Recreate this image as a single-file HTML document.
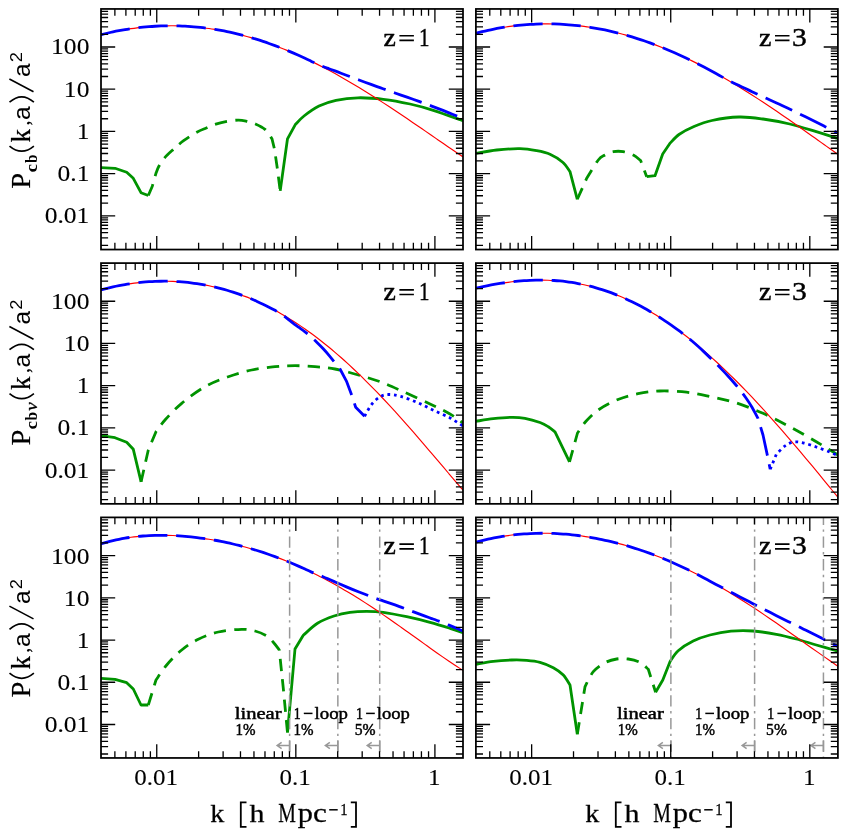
<!DOCTYPE html>
<html><head><meta charset="utf-8"><title>Power spectra</title>
<style>html,body{margin:0;padding:0;background:#fff}svg{display:block;will-change:transform}text{fill:#000}</style></head><body>
<svg width="845" height="832" viewBox="0 0 845 832" font-family="Liberation Serif">
<rect width="845" height="832" fill="#fff"/>
<defs>
<clipPath id="cp00"><rect x="101" y="8.95" width="362" height="240.6"/></clipPath>
<clipPath id="cp01"><rect x="475.9" y="8.95" width="362" height="240.6"/></clipPath>
<clipPath id="cp10"><rect x="101" y="263.1" width="362" height="240.75"/></clipPath>
<clipPath id="cp11"><rect x="475.9" y="263.1" width="362" height="240.75"/></clipPath>
<clipPath id="cp20"><rect x="101" y="517.4" width="362" height="240.55"/></clipPath>
<clipPath id="cp21"><rect x="475.9" y="517.4" width="362" height="240.55"/></clipPath>
</defs>
<g clip-path="url(#cp00)" fill="none" stroke-linejoin="round">
<path d="M101 167.7L115 168.3L126.7 172.3L133.3 178.3L141 192.7L148.3 195.5" stroke="#009300" stroke-width="2.8"/>
<path d="M148.3 195.5L152.3 186.2L156.1 172.9C156.57 171.8 157.48 168.82 158.9 166.3C160.32 163.78 162.23 160.58 164.6 157.8C166.97 155.02 169.93 152.45 173.1 149.6C176.27 146.75 179.65 143.6 183.6 140.7C187.55 137.8 193.02 134.32 196.8 132.2C200.58 130.08 203.13 129.33 206.3 128C209.47 126.67 212.33 125.3 215.8 124.2C219.27 123.1 223.32 122.08 227.1 121.4C230.88 120.72 235.18 120.1 238.5 120.1C241.82 120.1 244.17 120.75 247 121.4C249.83 122.05 252.5 122.67 255.5 124C258.5 125.33 262.25 126.93 265 129.4C267.75 131.87 270.83 137.23 272 138.8L274.5 149.2L277.3 168.2L280.2 190.9" stroke="#009300" stroke-width="2.8" stroke-dasharray="12.3 8.2"/>
<path d="M280.2 190.9L287.5 138.8L295.3 124.6C296.75 123.17 300.05 119.1 304 116C307.95 112.9 313.67 108.62 319 106C324.33 103.38 329.5 101.67 336 100.3C342.5 98.93 350.12 97.97 358 97.8C365.88 97.63 374.63 98.27 383.3 99.3C391.97 100.33 401.67 102.17 410 104C418.33 105.83 424.47 107.5 433.3 110.3C442.13 113.1 458.05 119.05 463 120.8" stroke="#009300" stroke-width="2.8"/>
<path d="M101 34.74C102 34.49 105 33.73 107 33.26C109 32.79 111 32.34 113 31.92C115 31.49 117 31.09 119 30.71C121 30.33 123 29.97 125 29.63C127 29.29 129 28.98 131 28.68C133 28.39 135 28.12 137 27.87C139 27.62 141 27.4 143 27.19C145 26.99 147 26.81 149 26.65C151 26.49 153 26.35 155 26.23C157 26.12 159 26.02 161 25.95C163 25.88 165 25.83 167 25.81C169 25.78 171 25.77 173 25.79C175 25.81 177 25.85 179 25.91C181 25.98 183 26.06 185 26.17C187 26.27 189 26.4 191 26.55C193 26.7 195 26.88 197 27.07C199 27.27 201 27.48 203 27.72C205 27.96 207 28.22 209 28.51C211 28.79 213 29.1 215 29.42C217 29.75 219 30.1 221 30.47C223 30.84 225 31.23 227 31.65C229 32.06 231 32.5 233 32.95C235 33.41 237 33.89 239 34.39C241 34.89 243 35.41 245 35.95C247 36.49 249 37.06 251 37.64C253 38.22 255 38.83 257 39.45C259 40.08 261 40.72 263 41.39C265 42.06 267 42.74 269 43.45C271 44.16 273 44.89 275 45.63C277 46.38 279 47.15 281 47.93C283 48.72 285 49.52 287 50.35C289 51.17 291 52.02 293 52.88C295 53.74 297 54.62 299 55.52C301 56.42 303 57.34 305 58.28C307 59.21 309 60.17 311 61.14C313 62.11 315 63.1 317 64.11C319 65.11 321 66.13 323 67.17C325 68.21 327 69.27 329 70.34C331 71.41 333 72.5 335 73.6C337 74.7 339 75.82 341 76.95C343 78.08 345 79.23 347 80.39C349 81.55 351 82.72 353 83.91C355 85.1 357 86.3 359 87.51C361 88.73 363 89.95 365 91.19C367 92.43 369 93.68 371 94.94C373 96.2 375 97.47 377 98.75C379 100.03 381 101.32 383 102.62C385 103.92 387 105.23 389 106.55C391 107.86 393 109.19 395 110.52C397 111.85 399 113.19 401 114.54C403 115.88 405 117.23 407 118.59C409 119.95 411 121.31 413 122.67C415 124.04 417 125.41 419 126.78C421 128.15 423 129.53 425 130.9C427 132.28 429 133.66 431 135.04C433 136.41 435 137.79 437 139.17C439 140.54 441 141.92 443 143.29C445 144.67 447 146.04 449 147.41C451 148.77 453 150.14 455 151.49C457 152.85 459.67 154.65 461 155.55C462.33 156.45 462.67 156.67 463 156.89" stroke="#ff0000" stroke-width="1.15"/>
<path d="M101 34.74C102 34.49 105 33.73 107 33.26C109 32.79 111 32.34 113 31.92C115 31.49 117 31.09 119 30.71C121 30.33 123 29.97 125 29.63C127 29.29 129 28.98 131 28.68C133 28.39 135 28.12 137 27.87C139 27.62 141 27.4 143 27.19C145 26.99 147 26.81 149 26.65C151 26.49 153 26.35 155 26.23C157 26.12 159 26.02 161 25.95C163 25.88 165 25.83 167 25.81C169 25.78 171 25.77 173 25.79C175 25.81 177 25.85 179 25.91C181 25.98 183 26.06 185 26.17C187 26.27 189 26.4 191 26.55C193 26.7 195 26.88 197 27.07C199 27.27 201 27.48 203 27.72C205 27.96 207 28.22 209 28.51C211 28.79 213 29.1 215 29.42C217 29.75 219 30.1 221 30.47C223 30.84 225 31.23 227 31.65C229 32.06 231 32.5 233 32.95C235 33.41 237 33.89 239 34.39C241 34.89 243 35.41 245 35.95C247 36.49 249 37.06 251 37.64C253 38.22 255 38.83 257 39.45C259 40.08 261 40.72 263 41.39C265 42.06 267 42.74 269 43.45C271 44.16 273 44.89 275 45.63C277 46.38 279 47.15 281 47.93C283 48.72 285 49.52 287 50.35C289 51.17 291 52.02 293 52.88C295 53.74 297 54.62 299 55.52C301 56.42 303 57.34 305 58.28C307 59.21 309 60.18 311 61.14C313 62.1 315 63.16 317 64.06C319 64.97 321 65.78 323 66.56C325 67.34 327 68.02 329 68.74C331 69.46 333 70.16 335 70.9C337 71.65 339 72.45 341 73.21C343 73.97 345 74.72 347 75.47C349 76.23 351 76.97 353 77.71C355 78.45 357 79.19 359 79.94C361 80.69 363 81.44 365 82.19C367 82.93 369 83.67 371 84.4C373 85.13 375 85.86 377 86.58C379 87.3 381 88.01 383 88.73C385 89.45 387 90.17 389 90.89C391 91.6 393 92.32 395 93.02C397 93.72 399 94.4 401 95.08C403 95.77 405 96.44 407 97.13C409 97.82 411 98.51 413 99.22C415 99.93 417 100.66 419 101.39C421 102.12 423 102.86 425 103.6C427 104.33 429 105.07 431 105.82C433 106.57 435 107.33 437 108.1C439 108.86 441 109.64 443 110.43C445 111.22 447 112.02 449 112.83C451 113.63 453 114.45 455 115.26C457 116.08 459.67 117.18 461 117.73C462.33 118.27 462.67 118.41 463 118.55" stroke="#0000ff" stroke-width="2.8" stroke-dasharray="29.3 8.85"/>
</g>
<g clip-path="url(#cp01)" fill="none" stroke-linejoin="round">
<path d="M476 153.3C479.45 152.75 489.37 150.77 496.7 150C504.03 149.23 513.33 148.58 520 148.7C526.67 148.82 531.7 149.77 536.7 150.7C541.7 151.63 545.67 152.37 550 154.3C554.33 156.23 559.37 159.4 562.7 162.3C566.03 165.2 568.78 170.13 570 171.7L577.3 199.3" stroke="#009300" stroke-width="2.8"/>
<path d="M577.3 199.3L586.7 178.3C588.63 175.25 595.25 163.88 598.3 160C601.35 156.12 602.5 156.38 605 155C607.5 153.62 610.25 152.25 613.3 151.7C616.35 151.15 619.97 151.15 623.3 151.7C626.63 152.25 630.4 153.5 633.3 155C636.2 156.5 639.47 159.75 640.7 160.7L646.7 176.7" stroke="#009300" stroke-width="2.8" stroke-dasharray="12.3 8.2"/>
<path d="M646.7 176.7L655 175.7L662.7 154L670 143.3C671.5 141.83 675 137.3 679 134.5C683 131.7 688.5 128.83 694 126.5C699.5 124.17 704.5 122.08 712 120.5C719.5 118.92 730.5 117.25 739 117C747.5 116.75 754.55 117.83 763 119C771.45 120.17 780.82 121.88 789.7 124C798.58 126.12 808.25 129.28 816.3 131.7C824.35 134.12 834.38 137.37 838 138.5" stroke="#009300" stroke-width="2.8"/>
<path d="M476 33.2C477 32.95 480 32.17 482 31.69C484 31.2 486 30.74 488 30.31C490 29.87 492 29.46 494 29.06C496 28.67 498 28.3 500 27.95C502 27.61 504 27.28 506 26.98C508 26.67 510 26.39 512 26.14C514 25.88 516 25.64 518 25.43C520 25.21 522 25.02 524 24.85C526 24.68 528 24.54 530 24.41C532 24.29 534 24.18 536 24.1C538 24.02 540 23.96 542 23.93C544 23.89 546 23.88 548 23.88C550 23.89 552 23.92 554 23.97C556 24.02 558 24.1 560 24.19C562 24.29 564 24.41 566 24.55C568 24.68 570 24.85 572 25.03C574 25.21 576 25.42 578 25.64C580 25.87 582 26.12 584 26.38C586 26.65 588 26.94 590 27.26C592 27.57 594 27.9 596 28.26C598 28.61 600 28.99 602 29.39C604 29.78 606 30.2 608 30.64C610 31.08 612 31.54 614 32.02C616 32.5 618 33.01 620 33.53C622 34.05 624 34.6 626 35.16C628 35.73 630 36.31 632 36.91C634 37.52 636 38.15 638 38.79C640 39.44 642 40.1 644 40.79C646 41.47 648 42.18 650 42.9C652 43.63 654 44.37 656 45.13C658 45.9 660 46.68 662 47.48C664 48.28 666 49.1 668 49.94C670 50.78 672 51.64 674 52.52C676 53.39 678 54.29 680 55.2C682 56.11 684 57.04 686 57.99C688 58.94 690 59.9 692 60.89C694 61.87 696 62.87 698 63.88C700 64.9 702 65.93 704 66.98C706 68.03 708 69.1 710 70.18C712 71.26 714 72.36 716 73.47C718 74.58 720 75.71 722 76.85C724 78 726 79.15 728 80.33C730 81.5 732 82.68 734 83.88C736 85.08 738 86.29 740 87.52C742 88.74 744 89.98 746 91.23C748 92.48 750 93.75 752 95.02C754 96.3 756 97.58 758 98.88C760 100.17 762 101.48 764 102.8C766 104.12 768 105.45 770 106.78C772 108.12 774 109.47 776 110.82C778 112.18 780 113.54 782 114.91C784 116.28 786 117.66 788 119.04C790 120.43 792 121.82 794 123.22C796 124.62 798 126.02 800 127.43C802 128.83 804 130.25 806 131.66C808 133.08 810 134.5 812 135.92C814 137.35 816 138.77 818 140.2C820 141.63 822 143.06 824 144.49C826 145.92 828 147.35 830 148.78C832 150.2 834.67 152.11 836 153.06C837.33 154.01 837.67 154.25 838 154.49" stroke="#ff0000" stroke-width="1.15"/>
<path d="M476 33.2C477 32.95 480 32.17 482 31.69C484 31.2 486 30.74 488 30.31C490 29.87 492 29.46 494 29.06C496 28.67 498 28.3 500 27.95C502 27.61 504 27.28 506 26.98C508 26.67 510 26.39 512 26.14C514 25.88 516 25.64 518 25.43C520 25.21 522 25.02 524 24.85C526 24.68 528 24.54 530 24.41C532 24.29 534 24.18 536 24.1C538 24.02 540 23.96 542 23.93C544 23.89 546 23.88 548 23.88C550 23.89 552 23.92 554 23.97C556 24.02 558 24.1 560 24.19C562 24.29 564 24.41 566 24.55C568 24.68 570 24.85 572 25.03C574 25.21 576 25.42 578 25.64C580 25.87 582 26.12 584 26.38C586 26.65 588 26.94 590 27.26C592 27.57 594 27.9 596 28.26C598 28.61 600 28.99 602 29.39C604 29.78 606 30.2 608 30.64C610 31.08 612 31.54 614 32.02C616 32.5 618 33.01 620 33.53C622 34.05 624 34.6 626 35.16C628 35.73 630 36.31 632 36.91C634 37.52 636 38.15 638 38.79C640 39.44 642 40.1 644 40.79C646 41.47 648 42.18 650 42.9C652 43.63 654 44.37 656 45.13C658 45.9 660 46.68 662 47.48C664 48.28 666 49.1 668 49.94C670 50.78 672 51.64 674 52.52C676 53.39 678 54.29 680 55.2C682 56.11 684 57.04 686 57.99C688 58.94 690 59.9 692 60.89C694 61.87 696 62.87 698 63.88C700 64.9 702 65.93 704 66.98C706 68.03 708 69.1 710 70.18C712 71.26 714 72.36 716 73.47C718 74.58 720 75.74 722 76.85C724 77.97 726 79.12 728 80.17C730 81.22 732 82.2 734 83.17C736 84.14 738 85.05 740 85.99C742 86.92 744 87.83 746 88.78C748 89.72 750 90.71 752 91.66C754 92.61 756 93.55 758 94.47C760 95.4 762 96.3 764 97.21C766 98.12 768 99.01 770 99.93C772 100.85 774 101.77 776 102.71C778 103.64 780 104.59 782 105.53C784 106.47 786 107.41 788 108.35C790 109.3 792 110.24 794 111.2C796 112.15 798 113.11 800 114.08C802 115.06 804 116.04 806 117.04C808 118.03 810 119.03 812 120.04C814 121.05 816 122.06 818 123.07C820 124.08 822 125.09 824 126.1C826 127.1 828 128.1 830 129.1C832 130.09 834.67 131.41 836 132.07C837.33 132.72 837.67 132.89 838 133.05" stroke="#0000ff" stroke-width="2.8" stroke-dasharray="29.3 8.85"/>
</g>
<g clip-path="url(#cp10)" fill="none" stroke-linejoin="round">
<path d="M101 435.7L115 437.7L126.7 442.3L133.3 449.3L141.1 481.8" stroke="#009300" stroke-width="2.8"/>
<path d="M141.1 481.8L148.3 450L156 431.7C157.5 429.75 160.72 424.73 165 420C169.28 415.27 175.03 408.85 181.7 403.3C188.37 397.75 197.23 391.13 205 386.7C212.77 382.27 220.52 379.48 228.3 376.7C236.08 373.92 243.92 371.67 251.7 370C259.48 368.33 267.78 367.42 275 366.7C282.22 365.98 288.33 365.7 295 365.7C301.67 365.7 308.33 366.15 315 366.7C321.67 367.25 327.78 367.62 335 369C342.22 370.38 350.8 372.88 358.3 375C365.8 377.12 372.5 378.92 380 381.7C387.5 384.48 394.97 387.98 403.3 391.7C411.63 395.42 422.22 400.28 430 404C437.78 407.72 444.5 410.83 450 414C455.5 417.17 460.83 421.5 463 423" stroke="#009300" stroke-width="2.8" stroke-dasharray="12.3 8.2"/>
<path d="M101 289.82C102 289.56 105 288.76 107 288.27C109 287.78 111 287.31 113 286.87C115 286.43 117 286.02 119 285.63C121 285.24 123 284.88 125 284.54C127 284.2 129 283.89 131 283.6C133 283.32 135 283.05 137 282.82C139 282.58 141 282.37 143 282.19C145 282 147 281.85 149 281.71C151 281.58 153 281.47 155 281.39C157 281.31 159 281.26 161 281.23C163 281.2 165 281.2 167 281.22C169 281.25 171 281.3 173 281.38C175 281.46 177 281.56 179 281.7C181 281.83 183 281.99 185 282.17C187 282.36 189 282.58 191 282.82C193 283.06 195 283.33 197 283.63C199 283.93 201 284.26 203 284.61C205 284.97 207 285.36 209 285.77C211 286.18 213 286.62 215 287.1C217 287.57 219 288.07 221 288.6C223 289.13 225 289.69 227 290.28C229 290.87 231 291.49 233 292.14C235 292.79 237 293.47 239 294.18C241 294.9 243 295.64 245 296.41C247 297.18 249 297.99 251 298.82C253 299.66 255 300.52 257 301.42C259 302.32 261 303.24 263 304.2C265 305.16 267 306.15 269 307.18C271 308.2 273 309.25 275 310.34C277 311.43 279 312.54 281 313.69C283 314.84 285 316.02 287 317.24C289 318.45 291 319.69 293 320.97C295 322.25 297 323.55 299 324.89C301 326.23 303 327.6 305 329.01C307 330.41 309 331.84 311 333.31C313 334.77 315 336.27 317 337.79C319 339.32 321 340.88 323 342.46C325 344.05 327 345.67 329 347.31C331 348.96 333 350.64 335 352.35C337 354.05 339 355.79 341 357.55C343 359.32 345 361.11 347 362.93C349 364.75 351 366.6 353 368.48C355 370.35 357 372.26 359 374.18C361 376.11 363 378.07 365 380.05C367 382.03 369 384.03 371 386.06C373 388.09 375 390.15 377 392.22C379 394.3 381 396.4 383 398.51C385 400.63 387 402.78 389 404.94C391 407.1 393 409.28 395 411.47C397 413.67 399 415.89 401 418.12C403 420.36 405 422.61 407 424.87C409 427.13 411 429.41 413 431.7C415 433.99 417 436.3 419 438.61C421 440.93 423 443.25 425 445.58C427 447.91 429 450.26 431 452.6C433 454.95 435 457.3 437 459.66C439 462.01 441 464.37 443 466.73C445 469.08 447 471.44 449 473.8C451 476.15 453 478.51 455 480.86C457 483.2 459.67 486.32 461 487.88C462.33 489.44 462.67 489.82 463 490.21" stroke="#ff0000" stroke-width="1.15"/>
<path d="M101 289.82C102 289.56 105 288.76 107 288.27C109 287.78 111 287.31 113 286.87C115 286.43 117 286.02 119 285.63C121 285.24 123 284.88 125 284.54C127 284.2 129 283.89 131 283.6C133 283.32 135 283.05 137 282.82C139 282.58 141 282.37 143 282.19C145 282 147 281.85 149 281.71C151 281.58 153 281.47 155 281.39C157 281.31 159 281.26 161 281.23C163 281.2 165 281.2 167 281.22C169 281.25 171 281.3 173 281.38C175 281.46 177 281.56 179 281.7C181 281.83 183 281.99 185 282.17C187 282.36 189 282.58 191 282.82C193 283.06 195 283.33 197 283.63C199 283.93 201 284.26 203 284.61C205 284.97 207 285.36 209 285.77C211 286.18 213 286.62 215 287.1C217 287.57 219 288.07 221 288.6C223 289.13 225 289.69 227 290.28C229 290.87 231 291.49 233 292.14C235 292.79 237 293.47 239 294.18C241 294.9 243 295.64 245 296.41C247 297.18 249 297.99 251 298.82C253 299.66 255 300.52 257 301.42C259 302.32 261 303.24 263 304.2C265 305.16 267 306.15 269 307.18C271 308.2 273 309.23 275 310.34C277 311.45 279 312.5 281 313.82C283 315.14 285 316.73 287 318.27C289 319.81 291 321.51 293 323.04C295 324.57 297 325.98 299 327.46C301 328.93 303 330.34 305 331.91C307 333.49 309 335.14 311 336.9C313 338.65 315 340.51 317 342.45C319 344.39 321 346.39 323 348.53C325 350.67 327 352.93 329 355.29C331 357.66 333.17 360.44 335 362.73C336.83 365.01 339.17 367.95 340 369L346.7 381.7L351.7 395L355.7 407.3L364.6 416.3" stroke="#0000ff" stroke-width="2.8" stroke-dasharray="29.3 8.85"/>
<path d="M364.6 416.3C365.78 414.3 369.13 407.53 371.7 404.3C374.27 401.07 377.23 398.53 380 396.9C382.77 395.27 384.97 394.62 388.3 394.5C391.63 394.38 395.27 394.92 400 396.2C404.73 397.48 411.15 399.87 416.7 402.2C422.25 404.53 427.75 407.58 433.3 410.2C438.85 412.82 445.05 415.27 450 417.9C454.95 420.53 460.83 424.65 463 426" stroke="#0000ff" stroke-width="2.8" stroke-dasharray="2.8 3.8"/>
</g>
<g clip-path="url(#cp11)" fill="none" stroke-linejoin="round">
<path d="M476 421.3C478.88 420.87 487.35 419.37 493.3 418.7C499.25 418.03 506.42 417.37 511.7 417.3C516.98 417.23 520.28 417.43 525 418.3C529.72 419.17 536.12 421.1 540 422.5C543.88 423.9 545.8 425.13 548.3 426.7C550.8 428.27 553.88 431.03 555 431.9L569.5 461.9" stroke="#009300" stroke-width="2.8"/>
<path d="M569.5 461.9L577.5 433C578.92 431.05 582.42 425.22 586 421.3C589.58 417.38 593.67 413.13 599 409.5C604.33 405.87 611.5 402.13 618 399.5C624.5 396.87 631 395.12 638 393.7C645 392.28 651.92 391.25 660 391C668.08 390.75 678.17 391.28 686.5 392.2C694.83 393.12 701.92 394.78 710 396.5C718.08 398.22 726.17 399.7 735 402.5C743.83 405.3 753.88 409.27 763 413.3C772.12 417.33 780.82 421.97 789.7 426.7C798.58 431.43 808.25 436.98 816.3 441.7C824.35 446.42 834.38 452.78 838 455" stroke="#009300" stroke-width="2.8" stroke-dasharray="12.3 8.2"/>
<path d="M476 288.12C477 287.9 480 287.24 482 286.82C484 286.4 486 286 488 285.61C490 285.22 492 284.84 494 284.49C496 284.13 498 283.79 500 283.47C502 283.15 504 282.85 506 282.57C508 282.3 510 282.04 512 281.8C514 281.56 516 281.35 518 281.16C520 280.97 522 280.8 524 280.66C526 280.51 528 280.4 530 280.3C532 280.21 534 280.14 536 280.11C538 280.07 540 280.05 542 280.07C544 280.08 546 280.13 548 280.2C550 280.27 552 280.37 554 280.5C556 280.63 558 280.79 560 280.98C562 281.17 564 281.39 566 281.64C568 281.89 570 282.18 572 282.49C574 282.8 576 283.15 578 283.53C580 283.91 582 284.31 584 284.76C586 285.2 588 285.67 590 286.18C592 286.69 594 287.23 596 287.8C598 288.38 600 288.98 602 289.63C604 290.27 606 290.94 608 291.65C610 292.35 612 293.09 614 293.87C616 294.64 618 295.45 620 296.29C622 297.13 624 298.01 626 298.92C628 299.83 630 300.77 632 301.75C634 302.72 636 303.73 638 304.78C640 305.82 642 306.9 644 308.01C646 309.11 648 310.26 650 311.43C652 312.61 654 313.82 656 315.06C658 316.3 660 317.57 662 318.88C664 320.18 666 321.52 668 322.89C670 324.26 672 325.66 674 327.09C676 328.52 678 329.99 680 331.48C682 332.97 684 334.5 686 336.05C688 337.61 690 339.19 692 340.8C694 342.42 696 344.06 698 345.73C700 347.4 702 349.1 704 350.83C706 352.56 708 354.32 710 356.1C712 357.88 714 359.69 716 361.53C718 363.36 720 365.23 722 367.12C724 369 726 370.92 728 372.86C730 374.79 732 376.76 734 378.74C736 380.73 738 382.74 740 384.77C742 386.8 744 388.86 746 390.93C748 393.01 750 395.11 752 397.22C754 399.34 756 401.48 758 403.64C760 405.8 762 407.97 764 410.17C766 412.36 768 414.58 770 416.81C772 419.04 774 421.29 776 423.55C778 425.81 780 428.09 782 430.39C784 432.68 786 434.99 788 437.31C790 439.63 792 441.97 794 444.32C796 446.67 798 449.03 800 451.4C802 453.77 804 456.15 806 458.54C808 460.93 810 463.33 812 465.74C814 468.15 816 470.57 818 472.99C820 475.42 822 477.85 824 480.28C826 482.72 828 485.16 830 487.61C832 490.06 834.67 493.33 836 494.96C837.33 496.59 837.67 497.01 838 497.41" stroke="#ff0000" stroke-width="1.15"/>
<path d="M476 288.12C477 287.9 480 287.24 482 286.82C484 286.4 486 286 488 285.61C490 285.22 492 284.84 494 284.49C496 284.13 498 283.79 500 283.47C502 283.15 504 282.85 506 282.57C508 282.3 510 282.04 512 281.8C514 281.56 516 281.35 518 281.16C520 280.97 522 280.8 524 280.66C526 280.51 528 280.4 530 280.3C532 280.21 534 280.14 536 280.11C538 280.07 540 280.05 542 280.07C544 280.08 546 280.13 548 280.2C550 280.27 552 280.37 554 280.5C556 280.63 558 280.79 560 280.98C562 281.17 564 281.39 566 281.64C568 281.89 570 282.18 572 282.49C574 282.8 576 283.15 578 283.53C580 283.91 582 284.31 584 284.76C586 285.2 588 285.67 590 286.18C592 286.69 594 287.23 596 287.8C598 288.38 600 288.98 602 289.63C604 290.27 606 290.94 608 291.65C610 292.35 612 293.09 614 293.87C616 294.64 618 295.45 620 296.29C622 297.13 624 298.01 626 298.92C628 299.83 630 300.77 632 301.75C634 302.72 636 303.73 638 304.78C640 305.82 642 306.9 644 308.01C646 309.11 648 310.26 650 311.43C652 312.61 654 313.82 656 315.06C658 316.3 660 317.57 662 318.88C664 320.18 666 321.52 668 322.89C670 324.26 672 325.66 674 327.09C676 328.52 678 329.98 680 331.48C682 332.98 684 334.48 686 336.08C688 337.67 690 339.33 692 341.03C694 342.74 696 344.52 698 346.32C700 348.13 702 349.99 704 351.88C706 353.76 708 355.69 710 357.62C712 359.56 714 361.52 716 363.51C718 365.51 720 367.53 722 369.61C724 371.69 726 373.8 728 375.98C730 378.17 732 380.4 734 382.73C736 385.07 738 387.46 740 390C742 392.53 744 395.09 746 397.95C748 400.81 750 403.78 752 407.17C754 410.57 757 416.45 758 418.3L763 435L767 453.6L770.2 469.3" stroke="#0000ff" stroke-width="2.8" stroke-dasharray="29.3 8.85"/>
<path d="M770.2 469.3L776.3 454.4C777.7 453.02 781.92 448.15 784.7 446.1C787.48 444.05 789.95 442.65 793 442.1C796.05 441.55 799.12 441.98 803 442.8C806.88 443.62 811.85 445.47 816.3 447C820.75 448.53 826.08 450.53 829.7 452C833.32 453.47 836.62 455.17 838 455.8" stroke="#0000ff" stroke-width="2.8" stroke-dasharray="2.8 3.8"/>
</g>
<g clip-path="url(#cp20)" fill="none" stroke-linejoin="round">
<path d="M101 678.3L115 679.3L126.7 682.7L133.3 689L141 705L148.3 705" stroke="#009300" stroke-width="2.8"/>
<path d="M148.3 705L156 680C157.78 677.5 162.42 670 166.7 665C170.98 660 176.43 654.28 181.7 650C186.97 645.72 192.2 642.3 198.3 639.3C204.4 636.3 211.07 633.67 218.3 632C225.53 630.33 235.58 629.47 241.7 629.3C247.82 629.13 250.83 629.88 255 631C259.17 632.12 263.65 634.12 266.7 636C269.75 637.88 271.2 639.97 273.3 642.3C275.4 644.63 278.3 648.72 279.3 650L283.3 688.3L287.5 732.7" stroke="#009300" stroke-width="2.8" stroke-dasharray="12.3 8.2"/>
<path d="M287.5 732.7L295 649L303.3 635.3C305.67 633.3 312.38 626.52 317.5 623.3C322.62 620.08 328.58 617.83 334 616C339.42 614.17 344.55 613.08 350 612.3C355.45 611.52 361.15 611.3 366.7 611.3C372.25 611.3 376.63 611.4 383.3 612.3C389.97 613.2 398.92 615.03 406.7 616.7C414.48 618.37 422.78 620.37 430 622.3C437.22 624.23 444.5 626.55 450 628.3C455.5 630.05 460.83 632.05 463 632.8" stroke="#009300" stroke-width="2.8"/>
<path d="M101 543.91C102 543.62 105 542.7 107 542.14C109 541.59 111 541.09 113 540.61C115 540.14 117 539.7 119 539.3C121 538.9 123 538.53 125 538.19C127 537.86 129 537.56 131 537.28C133 537.01 135 536.77 137 536.56C139 536.34 141 536.16 143 536C145 535.85 147 535.72 149 535.61C151 535.51 153 535.43 155 535.38C157 535.32 159 535.29 161 535.29C163 535.28 165 535.3 167 535.34C169 535.38 171 535.44 173 535.52C175 535.61 177 535.71 179 535.84C181 535.97 183 536.11 185 536.28C187 536.45 189 536.64 191 536.84C193 537.05 195 537.28 197 537.52C199 537.77 201 538.03 203 538.32C205 538.6 207 538.91 209 539.23C211 539.55 213 539.89 215 540.25C217 540.61 219 540.99 221 541.39C223 541.78 225 542.2 227 542.63C229 543.06 231 543.52 233 543.99C235 544.46 237 544.95 239 545.46C241 545.96 243 546.49 245 547.03C247 547.58 249 548.14 251 548.72C253 549.31 255 549.91 257 550.53C259 551.15 261 551.79 263 552.44C265 553.1 267 553.78 269 554.48C271 555.17 273 555.89 275 556.62C277 557.36 279 558.11 281 558.88C283 559.66 285 560.45 287 561.26C289 562.07 291 562.9 293 563.76C295 564.61 297 565.48 299 566.37C301 567.26 303 568.17 305 569.1C307 570.03 309 570.98 311 571.95C313 572.91 315 573.9 317 574.91C319 575.92 321 576.94 323 577.99C325 579.04 327 580.1 329 581.18C331 582.27 333 583.37 335 584.49C337 585.61 339 586.75 341 587.91C343 589.07 345 590.24 347 591.44C349 592.63 351 593.84 353 595.07C355 596.29 357 597.54 359 598.8C361 600.06 363 601.33 365 602.62C367 603.91 369 605.22 371 606.54C373 607.86 375 609.19 377 610.53C379 611.88 381 613.24 383 614.61C385 615.98 387 617.36 389 618.75C391 620.14 393 621.54 395 622.94C397 624.35 399 625.77 401 627.19C403 628.61 405 630.04 407 631.47C409 632.9 411 634.33 413 635.77C415 637.21 417 638.65 419 640.08C421 641.52 423 642.96 425 644.39C427 645.82 429 647.26 431 648.68C433 650.1 435 651.52 437 652.92C439 654.33 441 655.73 443 657.11C445 658.5 447 659.87 449 661.23C451 662.58 453 663.92 455 665.24C457 666.56 459.67 668.27 461 669.13C462.33 669.99 462.67 670.18 463 670.39" stroke="#ff0000" stroke-width="1.15"/>
<path d="M101 543.91C102 543.62 105 542.7 107 542.14C109 541.59 111 541.09 113 540.61C115 540.14 117 539.7 119 539.3C121 538.9 123 538.53 125 538.19C127 537.86 129 537.56 131 537.28C133 537.01 135 536.77 137 536.56C139 536.34 141 536.16 143 536C145 535.85 147 535.72 149 535.61C151 535.51 153 535.43 155 535.38C157 535.32 159 535.29 161 535.29C163 535.28 165 535.3 167 535.34C169 535.38 171 535.44 173 535.52C175 535.61 177 535.71 179 535.84C181 535.97 183 536.11 185 536.28C187 536.45 189 536.64 191 536.84C193 537.05 195 537.28 197 537.52C199 537.77 201 538.03 203 538.32C205 538.6 207 538.91 209 539.23C211 539.55 213 539.89 215 540.25C217 540.61 219 540.99 221 541.39C223 541.78 225 542.2 227 542.63C229 543.06 231 543.52 233 543.99C235 544.46 237 544.95 239 545.46C241 545.96 243 546.49 245 547.03C247 547.58 249 548.14 251 548.72C253 549.31 255 549.91 257 550.53C259 551.15 261 551.79 263 552.44C265 553.1 267 553.78 269 554.48C271 555.17 273 555.89 275 556.62C277 557.36 279 558.11 281 558.88C283 559.66 285 560.45 287 561.26C289 562.07 291 562.9 293 563.76C295 564.61 297 565.48 299 566.37C301 567.26 303 568.18 305 569.1C307 570.02 309 571 311 571.87C313 572.74 315 573.51 317 574.32C319 575.13 321 575.89 323 576.72C325 577.55 327 578.43 329 579.3C331 580.17 333 581.05 335 581.93C337 582.8 339 583.69 341 584.55C343 585.42 345 586.28 347 587.12C349 587.96 351 588.78 353 589.58C355 590.39 357 591.18 359 591.97C361 592.75 363 593.53 365 594.31C367 595.08 369 595.88 371 596.64C373 597.39 375 598.12 377 598.82C379 599.52 381 600.18 383 600.85C385 601.53 387 602.18 389 602.86C391 603.53 393 604.22 395 604.93C397 605.65 399 606.4 401 607.14C403 607.89 405 608.64 407 609.39C409 610.14 411 610.9 413 611.66C415 612.41 417 613.17 419 613.93C421 614.68 423 615.45 425 616.18C427 616.91 429 617.61 431 618.32C433 619.03 435 619.71 437 620.45C439 621.18 441 621.94 443 622.73C445 623.52 447 624.35 449 625.17C451 626 453 626.83 455 627.66C457 628.5 459.67 629.63 461 630.2C462.33 630.76 462.67 630.91 463 631.05" stroke="#0000ff" stroke-width="2.8" stroke-dasharray="29.2 8.8 29.2 8.8 29.2 8.8 29.2 8.8 29.2 8.8 29.2 8.8 50.4 8.8 29.2 8.8 29.2 8.8 29.2 8.8 29.2 8.8"/>
</g>
<g clip-path="url(#cp21)" fill="none" stroke-linejoin="round">
<path d="M476 664.3C478.88 663.8 487.35 662.02 493.3 661.3C499.25 660.58 506.13 660.17 511.7 660C517.27 659.83 521.98 659.92 526.7 660.3C531.42 660.68 535.57 661.07 540 662.3C544.43 663.53 549.42 665.58 553.3 667.7C557.18 669.82 560.52 672.12 563.3 675C566.08 677.88 568.88 683.33 570 685L577.3 734.3" stroke="#009300" stroke-width="2.8"/>
<path d="M577.3 734.3L585 686.7C586.38 684.2 589.97 675.7 593.3 671.7C596.63 667.7 601.1 664.82 605 662.7C608.9 660.58 612.82 659.62 616.7 659C620.58 658.38 624.42 658.45 628.3 659C632.18 659.55 636.67 660.58 640 662.3C643.33 664.02 646.92 668.13 648.3 669.3L655.6 692.2" stroke="#009300" stroke-width="2.8" stroke-dasharray="12.3 8.2"/>
<path d="M655.6 692.2L662.8 680L670.2 661.3C671.53 659.53 674.37 654.08 678.2 650.7C682.03 647.32 687.9 643.62 693.2 641C698.5 638.38 703.7 636.63 710 635C716.3 633.37 723.83 631.87 731 631.2C738.17 630.53 745.45 630.48 753 631C760.55 631.52 769.08 632.97 776.3 634.3C783.52 635.63 789.63 637.22 796.3 639C802.97 640.78 809.35 642.97 816.3 645C823.25 647.03 834.38 650.17 838 651.2" stroke="#009300" stroke-width="2.8"/>
<path d="M476 542.24C477 541.97 480 541.13 482 540.62C484 540.12 486 539.64 488 539.19C490 538.73 492 538.31 494 537.91C496 537.52 498 537.15 500 536.8C502 536.46 504 536.14 506 535.85C508 535.56 510 535.29 512 535.05C514 534.81 516 534.6 518 534.4C520 534.21 522 534.04 524 533.9C526 533.76 528 533.64 530 533.54C532 533.44 534 533.37 536 533.32C538 533.27 540 533.24 542 533.23C544 533.23 546 533.24 548 533.28C550 533.32 552 533.38 554 533.47C556 533.55 558 533.65 560 533.78C562 533.91 564 534.05 566 534.22C568 534.39 570 534.58 572 534.79C574 535 576 535.24 578 535.49C580 535.74 582 536.02 584 536.31C586 536.61 588 536.92 590 537.26C592 537.59 594 537.95 596 538.33C598 538.71 600 539.1 602 539.52C604 539.94 606 540.38 608 540.84C610 541.3 612 541.77 614 542.27C616 542.77 618 543.29 620 543.83C622 544.37 624 544.93 626 545.51C628 546.09 630 546.69 632 547.31C634 547.93 636 548.57 638 549.23C640 549.88 642 550.56 644 551.26C646 551.96 648 552.68 650 553.42C652 554.15 654 554.91 656 555.69C658 556.46 660 557.26 662 558.07C664 558.89 666 559.72 668 560.58C670 561.43 672 562.3 674 563.19C676 564.08 678 564.99 680 565.92C682 566.85 684 567.8 686 568.76C688 569.73 690 570.71 692 571.71C694 572.71 696 573.73 698 574.77C700 575.8 702 576.86 704 577.93C706 579 708 580.09 710 581.19C712 582.3 714 583.42 716 584.56C718 585.7 720 586.85 722 588.02C724 589.19 726 590.37 728 591.57C730 592.77 732 593.99 734 595.22C736 596.44 738 597.69 740 598.94C742 600.2 744 601.47 746 602.75C748 604.03 750 605.33 752 606.63C754 607.94 756 609.26 758 610.59C760 611.92 762 613.26 764 614.61C766 615.95 768 617.31 770 618.68C772 620.05 774 621.42 776 622.81C778 624.19 780 625.58 782 626.97C784 628.37 786 629.77 788 631.18C790 632.58 792 633.99 794 635.41C796 636.82 798 638.24 800 639.65C802 641.07 804 642.49 806 643.91C808 645.33 810 646.75 812 648.16C814 649.58 816 650.99 818 652.4C820 653.81 822 655.22 824 656.61C826 658.01 828 659.41 830 660.79C832 662.17 834.67 664 836 664.91C837.33 665.83 837.67 666.05 838 666.28" stroke="#ff0000" stroke-width="1.15"/>
<path d="M476 542.24C477 541.97 480 541.13 482 540.62C484 540.12 486 539.64 488 539.19C490 538.73 492 538.31 494 537.91C496 537.52 498 537.15 500 536.8C502 536.46 504 536.14 506 535.85C508 535.56 510 535.29 512 535.05C514 534.81 516 534.6 518 534.4C520 534.21 522 534.04 524 533.9C526 533.76 528 533.64 530 533.54C532 533.44 534 533.37 536 533.32C538 533.27 540 533.24 542 533.23C544 533.23 546 533.24 548 533.28C550 533.32 552 533.38 554 533.47C556 533.55 558 533.65 560 533.78C562 533.91 564 534.05 566 534.22C568 534.39 570 534.58 572 534.79C574 535 576 535.24 578 535.49C580 535.74 582 536.02 584 536.31C586 536.61 588 536.92 590 537.26C592 537.59 594 537.95 596 538.33C598 538.71 600 539.1 602 539.52C604 539.94 606 540.38 608 540.84C610 541.3 612 541.77 614 542.27C616 542.77 618 543.29 620 543.83C622 544.37 624 544.93 626 545.51C628 546.09 630 546.69 632 547.31C634 547.93 636 548.57 638 549.23C640 549.88 642 550.56 644 551.26C646 551.96 648 552.68 650 553.42C652 554.15 654 554.91 656 555.69C658 556.46 660 557.26 662 558.07C664 558.89 666 559.72 668 560.58C670 561.43 672 562.3 674 563.19C676 564.08 678 564.99 680 565.92C682 566.85 684 567.8 686 568.76C688 569.73 690 570.71 692 571.71C694 572.71 696 573.73 698 574.77C700 575.8 702 576.86 704 577.93C706 579 708 580.11 710 581.19C712 582.28 714 583.36 716 584.42C718 585.47 720 586.49 722 587.53C724 588.57 726 589.6 728 590.65C730 591.7 732 592.77 734 593.82C736 594.87 738 595.91 740 596.94C742 597.98 744 599.01 746 600.04C748 601.07 750 602.11 752 603.14C754 604.18 756 605.23 758 606.26C760 607.29 762 608.31 764 609.33C766 610.34 768 611.35 770 612.35C772 613.36 774 614.37 776 615.38C778 616.39 780 617.41 782 618.41C784 619.42 786 620.41 788 621.41C790 622.4 792 623.38 794 624.37C796 625.36 798 626.35 800 627.35C802 628.34 804 629.36 806 630.36C808 631.36 810 632.36 812 633.36C814 634.36 816 635.36 818 636.36C820 637.36 822 638.37 824 639.38C826 640.39 828 641.42 830 642.44C832 643.47 834.67 644.84 836 645.52C837.33 646.21 837.67 646.38 838 646.55" stroke="#0000ff" stroke-width="2.8" stroke-dasharray="29.3 8.85"/>
</g>
<line x1="289.62" y1="517.4" x2="289.62" y2="757.95" stroke="#989898" stroke-width="1.5" stroke-dasharray="11.3 4.4 2.4 4.6" stroke-dashoffset="3.7"/>
<path d="M289.62 740.2V751.5M289.62 745.5H277.32M281.62 742.3L277.12 745.5L281.62 748.7" fill="none" stroke="#989898" stroke-width="1.5"/>
<line x1="337.85" y1="517.4" x2="337.85" y2="757.95" stroke="#989898" stroke-width="1.5" stroke-dasharray="11.3 4.4 2.4 4.6" stroke-dashoffset="3.7"/>
<path d="M337.85 740.2V751.5M337.85 745.5H325.55M329.85 742.3L325.35 745.5L329.85 748.7" fill="none" stroke="#989898" stroke-width="1.5"/>
<line x1="379.71" y1="517.4" x2="379.71" y2="757.95" stroke="#989898" stroke-width="1.5" stroke-dasharray="11.3 4.4 2.4 4.6" stroke-dashoffset="3.7"/>
<path d="M379.71 740.2V751.5M379.71 745.5H367.41M371.71 742.3L367.21 745.5L371.71 748.7" fill="none" stroke="#989898" stroke-width="1.5"/>
<line x1="670.88" y1="517.4" x2="670.88" y2="757.95" stroke="#989898" stroke-width="1.5" stroke-dasharray="11.3 4.4 2.4 4.6" stroke-dashoffset="3.7"/>
<path d="M670.88 740.2V751.5M670.88 745.5H658.58M662.88 742.3L658.38 745.5L662.88 748.7" fill="none" stroke="#989898" stroke-width="1.5"/>
<line x1="754.61" y1="517.4" x2="754.61" y2="757.95" stroke="#989898" stroke-width="1.5" stroke-dasharray="11.3 4.4 2.4 4.6" stroke-dashoffset="3.7"/>
<path d="M754.61 740.2V751.5M754.61 745.5H742.31M746.61 742.3L742.11 745.5L746.61 748.7" fill="none" stroke="#989898" stroke-width="1.5"/>
<line x1="823.44" y1="517.4" x2="823.44" y2="757.95" stroke="#989898" stroke-width="1.5" stroke-dasharray="11.3 4.4 2.4 4.6" stroke-dashoffset="3.7"/>
<path d="M823.44 740.2V751.5M823.44 745.5H811.14M815.44 742.3L810.94 745.5L815.44 748.7" fill="none" stroke="#989898" stroke-width="1.5"/>
<path d="M114.88 8.95v6.8M114.88 249.55v-6.8M125.9 8.95v6.8M125.9 249.55v-6.8M135.21 8.95v6.8M135.21 249.55v-6.8M143.27 8.95v6.8M143.27 249.55v-6.8M150.39 8.95v6.8M150.39 249.55v-6.8M156.75 8.95v13.6M156.75 249.55v-13.6M198.62 8.95v6.8M198.62 249.55v-6.8M223.11 8.95v6.8M223.11 249.55v-6.8M240.48 8.95v6.8M240.48 249.55v-6.8M253.96 8.95v6.8M253.96 249.55v-6.8M264.98 8.95v6.8M264.98 249.55v-6.8M274.29 8.95v6.8M274.29 249.55v-6.8M282.35 8.95v6.8M282.35 249.55v-6.8M289.47 8.95v6.8M289.47 249.55v-6.8M295.83 8.95v13.6M295.83 249.55v-13.6M337.7 8.95v6.8M337.7 249.55v-6.8M362.19 8.95v6.8M362.19 249.55v-6.8M379.56 8.95v6.8M379.56 249.55v-6.8M393.04 8.95v6.8M393.04 249.55v-6.8M404.06 8.95v6.8M404.06 249.55v-6.8M413.37 8.95v6.8M413.37 249.55v-6.8M421.43 8.95v6.8M421.43 249.55v-6.8M428.55 8.95v6.8M428.55 249.55v-6.8M434.91 8.95v13.6M434.91 249.55v-13.6M101 245.39h7.1M463 245.39h-7.1M101 237.96h7.1M463 237.96h-7.1M101 232.68h7.1M463 232.68h-7.1M101 228.59h7.1M463 228.59h-7.1M101 225.25h7.1M463 225.25h-7.1M101 222.42h7.1M463 222.42h-7.1M101 219.97h7.1M463 219.97h-7.1M101 217.81h7.1M463 217.81h-7.1M101 215.88h14.2M463 215.88h-14.2M101 203.17h7.1M463 203.17h-7.1M101 195.74h7.1M463 195.74h-7.1M101 190.46h7.1M463 190.46h-7.1M101 186.37h7.1M463 186.37h-7.1M101 183.03h7.1M463 183.03h-7.1M101 180.2h7.1M463 180.2h-7.1M101 177.75h7.1M463 177.75h-7.1M101 175.59h7.1M463 175.59h-7.1M101 173.66h14.2M463 173.66h-14.2M101 160.95h7.1M463 160.95h-7.1M101 153.52h7.1M463 153.52h-7.1M101 148.24h7.1M463 148.24h-7.1M101 144.15h7.1M463 144.15h-7.1M101 140.81h7.1M463 140.81h-7.1M101 137.98h7.1M463 137.98h-7.1M101 135.53h7.1M463 135.53h-7.1M101 133.37h7.1M463 133.37h-7.1M101 131.44h14.2M463 131.44h-14.2M101 118.73h7.1M463 118.73h-7.1M101 111.3h7.1M463 111.3h-7.1M101 106.02h7.1M463 106.02h-7.1M101 101.93h7.1M463 101.93h-7.1M101 98.59h7.1M463 98.59h-7.1M101 95.76h7.1M463 95.76h-7.1M101 93.31h7.1M463 93.31h-7.1M101 91.15h7.1M463 91.15h-7.1M101 89.22h14.2M463 89.22h-14.2M101 76.51h7.1M463 76.51h-7.1M101 69.08h7.1M463 69.08h-7.1M101 63.8h7.1M463 63.8h-7.1M101 59.71h7.1M463 59.71h-7.1M101 56.37h7.1M463 56.37h-7.1M101 53.54h7.1M463 53.54h-7.1M101 51.09h7.1M463 51.09h-7.1M101 48.93h7.1M463 48.93h-7.1M101 47h14.2M463 47h-14.2M101 34.29h7.1M463 34.29h-7.1M101 26.86h7.1M463 26.86h-7.1M101 21.58h7.1M463 21.58h-7.1M101 17.49h7.1M463 17.49h-7.1M101 14.15h7.1M463 14.15h-7.1M101 11.32h7.1M463 11.32h-7.1" stroke="#000" stroke-width="1.3" fill="none"/>
<rect x="101" y="8.95" width="362" height="240.6" fill="none" stroke="#000" stroke-width="1.75"/>
<path d="M489.78 8.95v6.8M489.78 249.55v-6.8M500.8 8.95v6.8M500.8 249.55v-6.8M510.11 8.95v6.8M510.11 249.55v-6.8M518.17 8.95v6.8M518.17 249.55v-6.8M525.29 8.95v6.8M525.29 249.55v-6.8M531.65 8.95v13.6M531.65 249.55v-13.6M573.52 8.95v6.8M573.52 249.55v-6.8M598.01 8.95v6.8M598.01 249.55v-6.8M615.38 8.95v6.8M615.38 249.55v-6.8M628.86 8.95v6.8M628.86 249.55v-6.8M639.88 8.95v6.8M639.88 249.55v-6.8M649.19 8.95v6.8M649.19 249.55v-6.8M657.25 8.95v6.8M657.25 249.55v-6.8M664.37 8.95v6.8M664.37 249.55v-6.8M670.73 8.95v13.6M670.73 249.55v-13.6M712.6 8.95v6.8M712.6 249.55v-6.8M737.09 8.95v6.8M737.09 249.55v-6.8M754.46 8.95v6.8M754.46 249.55v-6.8M767.94 8.95v6.8M767.94 249.55v-6.8M778.96 8.95v6.8M778.96 249.55v-6.8M788.27 8.95v6.8M788.27 249.55v-6.8M796.33 8.95v6.8M796.33 249.55v-6.8M803.45 8.95v6.8M803.45 249.55v-6.8M809.81 8.95v13.6M809.81 249.55v-13.6M475.9 245.39h7.1M837.9 245.39h-7.1M475.9 237.96h7.1M837.9 237.96h-7.1M475.9 232.68h7.1M837.9 232.68h-7.1M475.9 228.59h7.1M837.9 228.59h-7.1M475.9 225.25h7.1M837.9 225.25h-7.1M475.9 222.42h7.1M837.9 222.42h-7.1M475.9 219.97h7.1M837.9 219.97h-7.1M475.9 217.81h7.1M837.9 217.81h-7.1M475.9 215.88h14.2M837.9 215.88h-14.2M475.9 203.17h7.1M837.9 203.17h-7.1M475.9 195.74h7.1M837.9 195.74h-7.1M475.9 190.46h7.1M837.9 190.46h-7.1M475.9 186.37h7.1M837.9 186.37h-7.1M475.9 183.03h7.1M837.9 183.03h-7.1M475.9 180.2h7.1M837.9 180.2h-7.1M475.9 177.75h7.1M837.9 177.75h-7.1M475.9 175.59h7.1M837.9 175.59h-7.1M475.9 173.66h14.2M837.9 173.66h-14.2M475.9 160.95h7.1M837.9 160.95h-7.1M475.9 153.52h7.1M837.9 153.52h-7.1M475.9 148.24h7.1M837.9 148.24h-7.1M475.9 144.15h7.1M837.9 144.15h-7.1M475.9 140.81h7.1M837.9 140.81h-7.1M475.9 137.98h7.1M837.9 137.98h-7.1M475.9 135.53h7.1M837.9 135.53h-7.1M475.9 133.37h7.1M837.9 133.37h-7.1M475.9 131.44h14.2M837.9 131.44h-14.2M475.9 118.73h7.1M837.9 118.73h-7.1M475.9 111.3h7.1M837.9 111.3h-7.1M475.9 106.02h7.1M837.9 106.02h-7.1M475.9 101.93h7.1M837.9 101.93h-7.1M475.9 98.59h7.1M837.9 98.59h-7.1M475.9 95.76h7.1M837.9 95.76h-7.1M475.9 93.31h7.1M837.9 93.31h-7.1M475.9 91.15h7.1M837.9 91.15h-7.1M475.9 89.22h14.2M837.9 89.22h-14.2M475.9 76.51h7.1M837.9 76.51h-7.1M475.9 69.08h7.1M837.9 69.08h-7.1M475.9 63.8h7.1M837.9 63.8h-7.1M475.9 59.71h7.1M837.9 59.71h-7.1M475.9 56.37h7.1M837.9 56.37h-7.1M475.9 53.54h7.1M837.9 53.54h-7.1M475.9 51.09h7.1M837.9 51.09h-7.1M475.9 48.93h7.1M837.9 48.93h-7.1M475.9 47h14.2M837.9 47h-14.2M475.9 34.29h7.1M837.9 34.29h-7.1M475.9 26.86h7.1M837.9 26.86h-7.1M475.9 21.58h7.1M837.9 21.58h-7.1M475.9 17.49h7.1M837.9 17.49h-7.1M475.9 14.15h7.1M837.9 14.15h-7.1M475.9 11.32h7.1M837.9 11.32h-7.1" stroke="#000" stroke-width="1.3" fill="none"/>
<rect x="475.9" y="8.95" width="362" height="240.6" fill="none" stroke="#000" stroke-width="1.75"/>
<path d="M114.88 263.1v6.8M114.88 503.85v-6.8M125.9 263.1v6.8M125.9 503.85v-6.8M135.21 263.1v6.8M135.21 503.85v-6.8M143.27 263.1v6.8M143.27 503.85v-6.8M150.39 263.1v6.8M150.39 503.85v-6.8M156.75 263.1v13.6M156.75 503.85v-13.6M198.62 263.1v6.8M198.62 503.85v-6.8M223.11 263.1v6.8M223.11 503.85v-6.8M240.48 263.1v6.8M240.48 503.85v-6.8M253.96 263.1v6.8M253.96 503.85v-6.8M264.98 263.1v6.8M264.98 503.85v-6.8M274.29 263.1v6.8M274.29 503.85v-6.8M282.35 263.1v6.8M282.35 503.85v-6.8M289.47 263.1v6.8M289.47 503.85v-6.8M295.83 263.1v13.6M295.83 503.85v-13.6M337.7 263.1v6.8M337.7 503.85v-6.8M362.19 263.1v6.8M362.19 503.85v-6.8M379.56 263.1v6.8M379.56 503.85v-6.8M393.04 263.1v6.8M393.04 503.85v-6.8M404.06 263.1v6.8M404.06 503.85v-6.8M413.37 263.1v6.8M413.37 503.85v-6.8M421.43 263.1v6.8M421.43 503.85v-6.8M428.55 263.1v6.8M428.55 503.85v-6.8M434.91 263.1v13.6M434.91 503.85v-13.6M101 499.64h7.1M463 499.64h-7.1M101 492.21h7.1M463 492.21h-7.1M101 486.93h7.1M463 486.93h-7.1M101 482.84h7.1M463 482.84h-7.1M101 479.5h7.1M463 479.5h-7.1M101 476.67h7.1M463 476.67h-7.1M101 474.22h7.1M463 474.22h-7.1M101 472.06h7.1M463 472.06h-7.1M101 470.13h14.2M463 470.13h-14.2M101 457.42h7.1M463 457.42h-7.1M101 449.99h7.1M463 449.99h-7.1M101 444.71h7.1M463 444.71h-7.1M101 440.62h7.1M463 440.62h-7.1M101 437.28h7.1M463 437.28h-7.1M101 434.45h7.1M463 434.45h-7.1M101 432h7.1M463 432h-7.1M101 429.84h7.1M463 429.84h-7.1M101 427.91h14.2M463 427.91h-14.2M101 415.2h7.1M463 415.2h-7.1M101 407.77h7.1M463 407.77h-7.1M101 402.49h7.1M463 402.49h-7.1M101 398.4h7.1M463 398.4h-7.1M101 395.06h7.1M463 395.06h-7.1M101 392.23h7.1M463 392.23h-7.1M101 389.78h7.1M463 389.78h-7.1M101 387.62h7.1M463 387.62h-7.1M101 385.69h14.2M463 385.69h-14.2M101 372.98h7.1M463 372.98h-7.1M101 365.55h7.1M463 365.55h-7.1M101 360.27h7.1M463 360.27h-7.1M101 356.18h7.1M463 356.18h-7.1M101 352.84h7.1M463 352.84h-7.1M101 350.01h7.1M463 350.01h-7.1M101 347.56h7.1M463 347.56h-7.1M101 345.4h7.1M463 345.4h-7.1M101 343.47h14.2M463 343.47h-14.2M101 330.76h7.1M463 330.76h-7.1M101 323.33h7.1M463 323.33h-7.1M101 318.05h7.1M463 318.05h-7.1M101 313.96h7.1M463 313.96h-7.1M101 310.62h7.1M463 310.62h-7.1M101 307.79h7.1M463 307.79h-7.1M101 305.34h7.1M463 305.34h-7.1M101 303.18h7.1M463 303.18h-7.1M101 301.25h14.2M463 301.25h-14.2M101 288.54h7.1M463 288.54h-7.1M101 281.11h7.1M463 281.11h-7.1M101 275.83h7.1M463 275.83h-7.1M101 271.74h7.1M463 271.74h-7.1M101 268.4h7.1M463 268.4h-7.1M101 265.57h7.1M463 265.57h-7.1" stroke="#000" stroke-width="1.3" fill="none"/>
<rect x="101" y="263.1" width="362" height="240.75" fill="none" stroke="#000" stroke-width="1.75"/>
<path d="M489.78 263.1v6.8M489.78 503.85v-6.8M500.8 263.1v6.8M500.8 503.85v-6.8M510.11 263.1v6.8M510.11 503.85v-6.8M518.17 263.1v6.8M518.17 503.85v-6.8M525.29 263.1v6.8M525.29 503.85v-6.8M531.65 263.1v13.6M531.65 503.85v-13.6M573.52 263.1v6.8M573.52 503.85v-6.8M598.01 263.1v6.8M598.01 503.85v-6.8M615.38 263.1v6.8M615.38 503.85v-6.8M628.86 263.1v6.8M628.86 503.85v-6.8M639.88 263.1v6.8M639.88 503.85v-6.8M649.19 263.1v6.8M649.19 503.85v-6.8M657.25 263.1v6.8M657.25 503.85v-6.8M664.37 263.1v6.8M664.37 503.85v-6.8M670.73 263.1v13.6M670.73 503.85v-13.6M712.6 263.1v6.8M712.6 503.85v-6.8M737.09 263.1v6.8M737.09 503.85v-6.8M754.46 263.1v6.8M754.46 503.85v-6.8M767.94 263.1v6.8M767.94 503.85v-6.8M778.96 263.1v6.8M778.96 503.85v-6.8M788.27 263.1v6.8M788.27 503.85v-6.8M796.33 263.1v6.8M796.33 503.85v-6.8M803.45 263.1v6.8M803.45 503.85v-6.8M809.81 263.1v13.6M809.81 503.85v-13.6M475.9 499.64h7.1M837.9 499.64h-7.1M475.9 492.21h7.1M837.9 492.21h-7.1M475.9 486.93h7.1M837.9 486.93h-7.1M475.9 482.84h7.1M837.9 482.84h-7.1M475.9 479.5h7.1M837.9 479.5h-7.1M475.9 476.67h7.1M837.9 476.67h-7.1M475.9 474.22h7.1M837.9 474.22h-7.1M475.9 472.06h7.1M837.9 472.06h-7.1M475.9 470.13h14.2M837.9 470.13h-14.2M475.9 457.42h7.1M837.9 457.42h-7.1M475.9 449.99h7.1M837.9 449.99h-7.1M475.9 444.71h7.1M837.9 444.71h-7.1M475.9 440.62h7.1M837.9 440.62h-7.1M475.9 437.28h7.1M837.9 437.28h-7.1M475.9 434.45h7.1M837.9 434.45h-7.1M475.9 432h7.1M837.9 432h-7.1M475.9 429.84h7.1M837.9 429.84h-7.1M475.9 427.91h14.2M837.9 427.91h-14.2M475.9 415.2h7.1M837.9 415.2h-7.1M475.9 407.77h7.1M837.9 407.77h-7.1M475.9 402.49h7.1M837.9 402.49h-7.1M475.9 398.4h7.1M837.9 398.4h-7.1M475.9 395.06h7.1M837.9 395.06h-7.1M475.9 392.23h7.1M837.9 392.23h-7.1M475.9 389.78h7.1M837.9 389.78h-7.1M475.9 387.62h7.1M837.9 387.62h-7.1M475.9 385.69h14.2M837.9 385.69h-14.2M475.9 372.98h7.1M837.9 372.98h-7.1M475.9 365.55h7.1M837.9 365.55h-7.1M475.9 360.27h7.1M837.9 360.27h-7.1M475.9 356.18h7.1M837.9 356.18h-7.1M475.9 352.84h7.1M837.9 352.84h-7.1M475.9 350.01h7.1M837.9 350.01h-7.1M475.9 347.56h7.1M837.9 347.56h-7.1M475.9 345.4h7.1M837.9 345.4h-7.1M475.9 343.47h14.2M837.9 343.47h-14.2M475.9 330.76h7.1M837.9 330.76h-7.1M475.9 323.33h7.1M837.9 323.33h-7.1M475.9 318.05h7.1M837.9 318.05h-7.1M475.9 313.96h7.1M837.9 313.96h-7.1M475.9 310.62h7.1M837.9 310.62h-7.1M475.9 307.79h7.1M837.9 307.79h-7.1M475.9 305.34h7.1M837.9 305.34h-7.1M475.9 303.18h7.1M837.9 303.18h-7.1M475.9 301.25h14.2M837.9 301.25h-14.2M475.9 288.54h7.1M837.9 288.54h-7.1M475.9 281.11h7.1M837.9 281.11h-7.1M475.9 275.83h7.1M837.9 275.83h-7.1M475.9 271.74h7.1M837.9 271.74h-7.1M475.9 268.4h7.1M837.9 268.4h-7.1M475.9 265.57h7.1M837.9 265.57h-7.1" stroke="#000" stroke-width="1.3" fill="none"/>
<rect x="475.9" y="263.1" width="362" height="240.75" fill="none" stroke="#000" stroke-width="1.75"/>
<path d="M114.88 517.4v6.8M114.88 757.95v-6.8M125.9 517.4v6.8M125.9 757.95v-6.8M135.21 517.4v6.8M135.21 757.95v-6.8M143.27 517.4v6.8M143.27 757.95v-6.8M150.39 517.4v6.8M150.39 757.95v-6.8M156.75 517.4v13.6M156.75 757.95v-13.6M198.62 517.4v6.8M198.62 757.95v-6.8M223.11 517.4v6.8M223.11 757.95v-6.8M240.48 517.4v6.8M240.48 757.95v-6.8M253.96 517.4v6.8M253.96 757.95v-6.8M264.98 517.4v6.8M264.98 757.95v-6.8M274.29 517.4v6.8M274.29 757.95v-6.8M282.35 517.4v6.8M282.35 757.95v-6.8M289.47 517.4v6.8M289.47 757.95v-6.8M295.83 517.4v13.6M295.83 757.95v-13.6M337.7 517.4v6.8M337.7 757.95v-6.8M362.19 517.4v6.8M362.19 757.95v-6.8M379.56 517.4v6.8M379.56 757.95v-6.8M393.04 517.4v6.8M393.04 757.95v-6.8M404.06 517.4v6.8M404.06 757.95v-6.8M413.37 517.4v6.8M413.37 757.95v-6.8M421.43 517.4v6.8M421.43 757.95v-6.8M428.55 517.4v6.8M428.55 757.95v-6.8M434.91 517.4v13.6M434.91 757.95v-13.6M101 753.99h7.1M463 753.99h-7.1M101 746.56h7.1M463 746.56h-7.1M101 741.28h7.1M463 741.28h-7.1M101 737.19h7.1M463 737.19h-7.1M101 733.85h7.1M463 733.85h-7.1M101 731.02h7.1M463 731.02h-7.1M101 728.57h7.1M463 728.57h-7.1M101 726.41h7.1M463 726.41h-7.1M101 724.48h14.2M463 724.48h-14.2M101 711.77h7.1M463 711.77h-7.1M101 704.34h7.1M463 704.34h-7.1M101 699.06h7.1M463 699.06h-7.1M101 694.97h7.1M463 694.97h-7.1M101 691.63h7.1M463 691.63h-7.1M101 688.8h7.1M463 688.8h-7.1M101 686.35h7.1M463 686.35h-7.1M101 684.19h7.1M463 684.19h-7.1M101 682.26h14.2M463 682.26h-14.2M101 669.55h7.1M463 669.55h-7.1M101 662.12h7.1M463 662.12h-7.1M101 656.84h7.1M463 656.84h-7.1M101 652.75h7.1M463 652.75h-7.1M101 649.41h7.1M463 649.41h-7.1M101 646.58h7.1M463 646.58h-7.1M101 644.13h7.1M463 644.13h-7.1M101 641.97h7.1M463 641.97h-7.1M101 640.04h14.2M463 640.04h-14.2M101 627.33h7.1M463 627.33h-7.1M101 619.9h7.1M463 619.9h-7.1M101 614.62h7.1M463 614.62h-7.1M101 610.53h7.1M463 610.53h-7.1M101 607.19h7.1M463 607.19h-7.1M101 604.36h7.1M463 604.36h-7.1M101 601.91h7.1M463 601.91h-7.1M101 599.75h7.1M463 599.75h-7.1M101 597.82h14.2M463 597.82h-14.2M101 585.11h7.1M463 585.11h-7.1M101 577.68h7.1M463 577.68h-7.1M101 572.4h7.1M463 572.4h-7.1M101 568.31h7.1M463 568.31h-7.1M101 564.97h7.1M463 564.97h-7.1M101 562.14h7.1M463 562.14h-7.1M101 559.69h7.1M463 559.69h-7.1M101 557.53h7.1M463 557.53h-7.1M101 555.6h14.2M463 555.6h-14.2M101 542.89h7.1M463 542.89h-7.1M101 535.46h7.1M463 535.46h-7.1M101 530.18h7.1M463 530.18h-7.1M101 526.09h7.1M463 526.09h-7.1M101 522.75h7.1M463 522.75h-7.1M101 519.92h7.1M463 519.92h-7.1" stroke="#000" stroke-width="1.3" fill="none"/>
<rect x="101" y="517.4" width="362" height="240.55" fill="none" stroke="#000" stroke-width="1.75"/>
<path d="M489.78 517.4v6.8M489.78 757.95v-6.8M500.8 517.4v6.8M500.8 757.95v-6.8M510.11 517.4v6.8M510.11 757.95v-6.8M518.17 517.4v6.8M518.17 757.95v-6.8M525.29 517.4v6.8M525.29 757.95v-6.8M531.65 517.4v13.6M531.65 757.95v-13.6M573.52 517.4v6.8M573.52 757.95v-6.8M598.01 517.4v6.8M598.01 757.95v-6.8M615.38 517.4v6.8M615.38 757.95v-6.8M628.86 517.4v6.8M628.86 757.95v-6.8M639.88 517.4v6.8M639.88 757.95v-6.8M649.19 517.4v6.8M649.19 757.95v-6.8M657.25 517.4v6.8M657.25 757.95v-6.8M664.37 517.4v6.8M664.37 757.95v-6.8M670.73 517.4v13.6M670.73 757.95v-13.6M712.6 517.4v6.8M712.6 757.95v-6.8M737.09 517.4v6.8M737.09 757.95v-6.8M754.46 517.4v6.8M754.46 757.95v-6.8M767.94 517.4v6.8M767.94 757.95v-6.8M778.96 517.4v6.8M778.96 757.95v-6.8M788.27 517.4v6.8M788.27 757.95v-6.8M796.33 517.4v6.8M796.33 757.95v-6.8M803.45 517.4v6.8M803.45 757.95v-6.8M809.81 517.4v13.6M809.81 757.95v-13.6M475.9 753.99h7.1M837.9 753.99h-7.1M475.9 746.56h7.1M837.9 746.56h-7.1M475.9 741.28h7.1M837.9 741.28h-7.1M475.9 737.19h7.1M837.9 737.19h-7.1M475.9 733.85h7.1M837.9 733.85h-7.1M475.9 731.02h7.1M837.9 731.02h-7.1M475.9 728.57h7.1M837.9 728.57h-7.1M475.9 726.41h7.1M837.9 726.41h-7.1M475.9 724.48h14.2M837.9 724.48h-14.2M475.9 711.77h7.1M837.9 711.77h-7.1M475.9 704.34h7.1M837.9 704.34h-7.1M475.9 699.06h7.1M837.9 699.06h-7.1M475.9 694.97h7.1M837.9 694.97h-7.1M475.9 691.63h7.1M837.9 691.63h-7.1M475.9 688.8h7.1M837.9 688.8h-7.1M475.9 686.35h7.1M837.9 686.35h-7.1M475.9 684.19h7.1M837.9 684.19h-7.1M475.9 682.26h14.2M837.9 682.26h-14.2M475.9 669.55h7.1M837.9 669.55h-7.1M475.9 662.12h7.1M837.9 662.12h-7.1M475.9 656.84h7.1M837.9 656.84h-7.1M475.9 652.75h7.1M837.9 652.75h-7.1M475.9 649.41h7.1M837.9 649.41h-7.1M475.9 646.58h7.1M837.9 646.58h-7.1M475.9 644.13h7.1M837.9 644.13h-7.1M475.9 641.97h7.1M837.9 641.97h-7.1M475.9 640.04h14.2M837.9 640.04h-14.2M475.9 627.33h7.1M837.9 627.33h-7.1M475.9 619.9h7.1M837.9 619.9h-7.1M475.9 614.62h7.1M837.9 614.62h-7.1M475.9 610.53h7.1M837.9 610.53h-7.1M475.9 607.19h7.1M837.9 607.19h-7.1M475.9 604.36h7.1M837.9 604.36h-7.1M475.9 601.91h7.1M837.9 601.91h-7.1M475.9 599.75h7.1M837.9 599.75h-7.1M475.9 597.82h14.2M837.9 597.82h-14.2M475.9 585.11h7.1M837.9 585.11h-7.1M475.9 577.68h7.1M837.9 577.68h-7.1M475.9 572.4h7.1M837.9 572.4h-7.1M475.9 568.31h7.1M837.9 568.31h-7.1M475.9 564.97h7.1M837.9 564.97h-7.1M475.9 562.14h7.1M837.9 562.14h-7.1M475.9 559.69h7.1M837.9 559.69h-7.1M475.9 557.53h7.1M837.9 557.53h-7.1M475.9 555.6h14.2M837.9 555.6h-14.2M475.9 542.89h7.1M837.9 542.89h-7.1M475.9 535.46h7.1M837.9 535.46h-7.1M475.9 530.18h7.1M837.9 530.18h-7.1M475.9 526.09h7.1M837.9 526.09h-7.1M475.9 522.75h7.1M837.9 522.75h-7.1M475.9 519.92h7.1M837.9 519.92h-7.1" stroke="#000" stroke-width="1.3" fill="none"/>
<rect x="475.9" y="517.4" width="362" height="240.55" fill="none" stroke="#000" stroke-width="1.75"/>
<text transform="translate(89.4 54.45) scale(1.13 1)" font-size="22.6" text-anchor="end" stroke="#000" stroke-width="0.1">100</text>
<text transform="translate(89.4 96.67) scale(1.13 1)" font-size="22.6" text-anchor="end" stroke="#000" stroke-width="0.1">10</text>
<text transform="translate(89.4 138.89) scale(1.13 1)" font-size="22.6" text-anchor="end" stroke="#000" stroke-width="0.1">1</text>
<text transform="translate(89.4 181.11) scale(1.13 1)" font-size="22.6" text-anchor="end" stroke="#000" stroke-width="0.1">0.1</text>
<text transform="translate(89.4 223.33) scale(1.13 1)" font-size="22.6" text-anchor="end" stroke="#000" stroke-width="0.1">0.01</text>
<text transform="translate(89.4 308.8) scale(1.13 1)" font-size="22.6" text-anchor="end" stroke="#000" stroke-width="0.1">100</text>
<text transform="translate(89.4 351.02) scale(1.13 1)" font-size="22.6" text-anchor="end" stroke="#000" stroke-width="0.1">10</text>
<text transform="translate(89.4 393.24) scale(1.13 1)" font-size="22.6" text-anchor="end" stroke="#000" stroke-width="0.1">1</text>
<text transform="translate(89.4 435.46) scale(1.13 1)" font-size="22.6" text-anchor="end" stroke="#000" stroke-width="0.1">0.1</text>
<text transform="translate(89.4 477.68) scale(1.13 1)" font-size="22.6" text-anchor="end" stroke="#000" stroke-width="0.1">0.01</text>
<text transform="translate(89.4 563.6) scale(1.13 1)" font-size="22.6" text-anchor="end" stroke="#000" stroke-width="0.1">100</text>
<text transform="translate(89.4 605.82) scale(1.13 1)" font-size="22.6" text-anchor="end" stroke="#000" stroke-width="0.1">10</text>
<text transform="translate(89.4 648.04) scale(1.13 1)" font-size="22.6" text-anchor="end" stroke="#000" stroke-width="0.1">1</text>
<text transform="translate(89.4 690.26) scale(1.13 1)" font-size="22.6" text-anchor="end" stroke="#000" stroke-width="0.1">0.1</text>
<text transform="translate(89.4 732.48) scale(1.13 1)" font-size="22.6" text-anchor="end" stroke="#000" stroke-width="0.1">0.01</text>
<text transform="translate(156.15 785) scale(1.07 1)" font-size="23.4" text-anchor="middle" stroke="#000" stroke-width="0.1">0.01</text>
<text transform="translate(295.23 785) scale(1.07 1)" font-size="23.4" text-anchor="middle" stroke="#000" stroke-width="0.1">0.1</text>
<text transform="translate(434.31 785) scale(1.07 1)" font-size="23.4" text-anchor="middle" stroke="#000" stroke-width="0.1">1</text>
<text transform="translate(531.05 785) scale(1.07 1)" font-size="23.4" text-anchor="middle" stroke="#000" stroke-width="0.1">0.01</text>
<text transform="translate(670.13 785) scale(1.07 1)" font-size="23.4" text-anchor="middle" stroke="#000" stroke-width="0.1">0.1</text>
<text transform="translate(809.21 785) scale(1.07 1)" font-size="23.4" text-anchor="middle" stroke="#000" stroke-width="0.1">1</text>
<text transform="translate(210.17 822) scale(1.080 1)" font-family="Liberation Serif" font-size="26" font-weight="normal" font-style="normal" stroke="#000" stroke-width="0.25" stroke-linejoin="round">k</text>
<path d="M246.5 802.3H240.8V826.8H246.5" stroke="#000" stroke-width="1.8" fill="none"/>
<text transform="translate(249.41 822) scale(1.153 1)" font-family="Liberation Serif" font-size="26" font-weight="normal" font-style="normal" stroke="#000" stroke-width="0.25" stroke-linejoin="round">h</text>
<text transform="translate(278.33 822) scale(0.735 1)" font-family="Liberation Serif" font-size="27" font-weight="normal" font-style="normal" stroke="#000" stroke-width="0.25" stroke-linejoin="round">M</text>
<text transform="translate(297.71 822) scale(1.145 1)" font-family="Liberation Serif" font-size="26.5" font-weight="normal" font-style="normal" stroke="#000" stroke-width="0.25" stroke-linejoin="round">p</text>
<text transform="translate(313.11 822) scale(1.177 1)" font-family="Liberation Serif" font-size="26.5" font-weight="normal" font-style="normal" stroke="#000" stroke-width="0.25" stroke-linejoin="round">c</text>
<path d="M329.2 809.8H337.7" stroke="#000" stroke-width="1.5"/>
<text transform="translate(340.3 814.7) scale(0.879 1)" font-family="Liberation Serif" font-size="16.8" font-weight="normal" font-style="normal" stroke="#000" stroke-width="0.25" stroke-linejoin="round">1</text>
<path d="M350.8 802.3H356V826.8H350.8" stroke="#000" stroke-width="1.8" fill="none"/>
<text transform="translate(585.17 822) scale(1.080 1)" font-family="Liberation Serif" font-size="26" font-weight="normal" font-style="normal" stroke="#000" stroke-width="0.25" stroke-linejoin="round">k</text>
<path d="M621.5 802.3H615.8V826.8H621.5" stroke="#000" stroke-width="1.8" fill="none"/>
<text transform="translate(624.41 822) scale(1.153 1)" font-family="Liberation Serif" font-size="26" font-weight="normal" font-style="normal" stroke="#000" stroke-width="0.25" stroke-linejoin="round">h</text>
<text transform="translate(653.33 822) scale(0.735 1)" font-family="Liberation Serif" font-size="27" font-weight="normal" font-style="normal" stroke="#000" stroke-width="0.25" stroke-linejoin="round">M</text>
<text transform="translate(672.71 822) scale(1.145 1)" font-family="Liberation Serif" font-size="26.5" font-weight="normal" font-style="normal" stroke="#000" stroke-width="0.25" stroke-linejoin="round">p</text>
<text transform="translate(688.11 822) scale(1.177 1)" font-family="Liberation Serif" font-size="26.5" font-weight="normal" font-style="normal" stroke="#000" stroke-width="0.25" stroke-linejoin="round">c</text>
<path d="M704.2 809.8H712.7" stroke="#000" stroke-width="1.5"/>
<text transform="translate(715.3 814.7) scale(0.879 1)" font-family="Liberation Serif" font-size="16.8" font-weight="normal" font-style="normal" stroke="#000" stroke-width="0.25" stroke-linejoin="round">1</text>
<path d="M725.8 802.3H731V826.8H725.8" stroke="#000" stroke-width="1.8" fill="none"/>
<g transform="translate(29.5 188) rotate(-90)">
<text transform="translate(-0.72 0) scale(1.022 1)" font-family="Liberation Serif" font-size="27.9" font-weight="normal" font-style="normal" stroke="#000" stroke-width="0.2" stroke-linejoin="round">P</text>
<text transform="translate(15.54 7.2) scale(1.152 1)" font-family="Liberation Serif" font-size="16.7" font-weight="bold" font-style="normal">c</text>
<text transform="translate(25.11 7.2) scale(0.905 1)" font-family="Liberation Serif" font-size="16.7" font-weight="bold" font-style="normal">b</text>
<path d="M41.9 -20.0Q31.7 -7.8 41.9 4.4" stroke="#000" stroke-width="1.6" fill="none"/>
<text transform="translate(45.59 0) scale(1.028 1)" font-family="Liberation Serif" font-size="26.3" font-weight="normal" font-style="normal" stroke="#000" stroke-width="0.2" stroke-linejoin="round">k</text>
<text transform="translate(62.46 -0.5) scale(0.885 1)" font-family="Liberation Serif" font-size="22" font-weight="normal" font-style="normal" stroke="#000" stroke-width="0.2" stroke-linejoin="round">,</text>
<text transform="translate(68.05 0.2) scale(1.030 1)" font-family="Liberation Sans" font-size="24" font-weight="normal" font-style="normal">a</text>
<path d="M85.8 -20.0Q96.6 -7.8 85.8 4.4" stroke="#000" stroke-width="1.6" fill="none"/>
<path d="M96.2 4.0L109 -20.1" stroke="#000" stroke-width="1.6" fill="none"/>
<text transform="translate(111.07 0.2) scale(1.014 1)" font-family="Liberation Sans" font-size="24" font-weight="normal" font-style="normal">a</text>
<text transform="translate(125.87 -7.4) scale(1.138 1)" font-family="Liberation Sans" font-size="16.2" font-weight="normal" font-style="normal">2</text>
</g>
<g transform="translate(29.5 444.8) rotate(-90)">
<text transform="translate(-0.72 0) scale(1.022 1)" font-family="Liberation Serif" font-size="27.9" font-weight="normal" font-style="normal" stroke="#000" stroke-width="0.2" stroke-linejoin="round">P</text>
<text transform="translate(15.35 7.2) scale(1.136 1)" font-family="Liberation Serif" font-size="16.7" font-weight="bold" font-style="normal">c</text>
<text transform="translate(24.41 7.2) scale(0.917 1)" font-family="Liberation Serif" font-size="16.7" font-weight="bold" font-style="normal">b</text>
<text transform="translate(33.94 7) scale(1.103 1)" font-family="Liberation Serif" font-size="17.5" font-weight="normal" font-style="italic" stroke="#000" stroke-width="0.3" stroke-linejoin="round">ν</text>
<path d="M51.2 -20.0Q41 -7.8 51.2 4.4" stroke="#000" stroke-width="1.6" fill="none"/>
<text transform="translate(54.89 0) scale(1.028 1)" font-family="Liberation Serif" font-size="26.3" font-weight="normal" font-style="normal" stroke="#000" stroke-width="0.2" stroke-linejoin="round">k</text>
<text transform="translate(71.76 -0.5) scale(0.885 1)" font-family="Liberation Serif" font-size="22" font-weight="normal" font-style="normal" stroke="#000" stroke-width="0.2" stroke-linejoin="round">,</text>
<text transform="translate(77.35 0.2) scale(1.030 1)" font-family="Liberation Sans" font-size="24" font-weight="normal" font-style="normal">a</text>
<path d="M95.1 -20.0Q105.9 -7.8 95.1 4.4" stroke="#000" stroke-width="1.6" fill="none"/>
<path d="M105.5 4.0L118.3 -20.1" stroke="#000" stroke-width="1.6" fill="none"/>
<text transform="translate(120.37 0.2) scale(1.014 1)" font-family="Liberation Sans" font-size="24" font-weight="normal" font-style="normal">a</text>
<text transform="translate(135.17 -7.4) scale(1.138 1)" font-family="Liberation Sans" font-size="16.2" font-weight="normal" font-style="normal">2</text>
</g>
<g transform="translate(29.5 696.9) rotate(-90)">
<text transform="translate(-0.72 0) scale(1.022 1)" font-family="Liberation Serif" font-size="27.9" font-weight="normal" font-style="normal" stroke="#000" stroke-width="0.2" stroke-linejoin="round">P</text>
<path d="M23.7 -20.0Q13.5 -7.8 23.7 4.4" stroke="#000" stroke-width="1.6" fill="none"/>
<text transform="translate(27.39 0) scale(1.028 1)" font-family="Liberation Serif" font-size="26.3" font-weight="normal" font-style="normal" stroke="#000" stroke-width="0.2" stroke-linejoin="round">k</text>
<text transform="translate(44.26 -0.5) scale(0.885 1)" font-family="Liberation Serif" font-size="22" font-weight="normal" font-style="normal" stroke="#000" stroke-width="0.2" stroke-linejoin="round">,</text>
<text transform="translate(49.85 0.2) scale(1.030 1)" font-family="Liberation Sans" font-size="24" font-weight="normal" font-style="normal">a</text>
<path d="M67.6 -20.0Q78.4 -7.8 67.6 4.4" stroke="#000" stroke-width="1.6" fill="none"/>
<path d="M78 4.0L90.8 -20.1" stroke="#000" stroke-width="1.6" fill="none"/>
<text transform="translate(92.87 0.2) scale(1.014 1)" font-family="Liberation Sans" font-size="24" font-weight="normal" font-style="normal">a</text>
<text transform="translate(107.67 -7.4) scale(1.138 1)" font-family="Liberation Sans" font-size="16.2" font-weight="normal" font-style="normal">2</text>
</g>
<text transform="translate(383.45 45.65) scale(1.088 1)" font-family="Liberation Serif" font-size="25.5" font-weight="normal" font-style="normal" stroke="#000" stroke-width="0.5" stroke-linejoin="round">z</text>
<path d="M399.4 35.75H413.9M399.4 40.35H413.9" stroke="#000" stroke-width="1.7"/>
<text transform="translate(418.95 45.65) scale(0.848 1)" font-family="Liberation Serif" font-size="24.8" font-weight="normal" font-style="normal" stroke="#000" stroke-width="0.4" stroke-linejoin="round">1</text>
<text transform="translate(759.05 45.65) scale(1.088 1)" font-family="Liberation Serif" font-size="25.5" font-weight="normal" font-style="normal" stroke="#000" stroke-width="0.5" stroke-linejoin="round">z</text>
<path d="M775 35.75H789.5M775 40.35H789.5" stroke="#000" stroke-width="1.7"/>
<text transform="translate(791.99 45.65) scale(1.191 1)" font-family="Liberation Serif" font-size="24.8" font-weight="normal" font-style="normal" stroke="#000" stroke-width="0.4" stroke-linejoin="round">3</text>
<text transform="translate(383.45 299.8) scale(1.088 1)" font-family="Liberation Serif" font-size="25.5" font-weight="normal" font-style="normal" stroke="#000" stroke-width="0.5" stroke-linejoin="round">z</text>
<path d="M399.4 289.9H413.9M399.4 294.5H413.9" stroke="#000" stroke-width="1.7"/>
<text transform="translate(418.95 299.8) scale(0.848 1)" font-family="Liberation Serif" font-size="24.8" font-weight="normal" font-style="normal" stroke="#000" stroke-width="0.4" stroke-linejoin="round">1</text>
<text transform="translate(759.05 299.8) scale(1.088 1)" font-family="Liberation Serif" font-size="25.5" font-weight="normal" font-style="normal" stroke="#000" stroke-width="0.5" stroke-linejoin="round">z</text>
<path d="M775 289.9H789.5M775 294.5H789.5" stroke="#000" stroke-width="1.7"/>
<text transform="translate(791.99 299.8) scale(1.191 1)" font-family="Liberation Serif" font-size="24.8" font-weight="normal" font-style="normal" stroke="#000" stroke-width="0.4" stroke-linejoin="round">3</text>
<text transform="translate(383.45 554.1) scale(1.088 1)" font-family="Liberation Serif" font-size="25.5" font-weight="normal" font-style="normal" stroke="#000" stroke-width="0.5" stroke-linejoin="round">z</text>
<path d="M399.4 544.2H413.9M399.4 548.8H413.9" stroke="#000" stroke-width="1.7"/>
<text transform="translate(418.95 554.1) scale(0.848 1)" font-family="Liberation Serif" font-size="24.8" font-weight="normal" font-style="normal" stroke="#000" stroke-width="0.4" stroke-linejoin="round">1</text>
<text transform="translate(759.05 554.1) scale(1.088 1)" font-family="Liberation Serif" font-size="25.5" font-weight="normal" font-style="normal" stroke="#000" stroke-width="0.5" stroke-linejoin="round">z</text>
<path d="M775 544.2H789.5M775 548.8H789.5" stroke="#000" stroke-width="1.7"/>
<text transform="translate(791.99 554.1) scale(1.191 1)" font-family="Liberation Serif" font-size="24.8" font-weight="normal" font-style="normal" stroke="#000" stroke-width="0.4" stroke-linejoin="round">3</text>
<text transform="translate(234.69 718.5) scale(1.251 1)" font-family="Liberation Serif" font-size="16.5" font-weight="normal" font-style="normal" stroke="#000" stroke-width="0.45" stroke-linejoin="round">linear</text>
<text transform="translate(235.58 735.2) scale(0.911 1)" font-family="Liberation Serif" font-size="16.5" font-weight="normal" font-style="normal" stroke="#000" stroke-width="0.45" stroke-linejoin="round">1%</text>
<text transform="translate(293.68 718.5) scale(0.844 1)" font-family="Liberation Serif" font-size="16.5" font-weight="normal" font-style="normal" stroke="#000" stroke-width="0.45" stroke-linejoin="round">1</text>
<path d="M303.8 713.4H312.5" stroke="#000" stroke-width="1.5"/>
<text transform="translate(314.52 718.5) scale(1.139 1)" font-family="Liberation Serif" font-size="16.5" font-weight="normal" font-style="normal" stroke="#000" stroke-width="0.45" stroke-linejoin="round">loop</text>
<text transform="translate(293.58 735.2) scale(0.911 1)" font-family="Liberation Serif" font-size="16.5" font-weight="normal" font-style="normal" stroke="#000" stroke-width="0.45" stroke-linejoin="round">1%</text>
<text transform="translate(355.98 718.5) scale(0.844 1)" font-family="Liberation Serif" font-size="16.5" font-weight="normal" font-style="normal" stroke="#000" stroke-width="0.45" stroke-linejoin="round">1</text>
<path d="M366.1 713.4H374.8" stroke="#000" stroke-width="1.5"/>
<text transform="translate(376.83 718.5) scale(1.128 1)" font-family="Liberation Serif" font-size="16.5" font-weight="normal" font-style="normal" stroke="#000" stroke-width="0.45" stroke-linejoin="round">loop</text>
<text transform="translate(354.79 735.2) scale(0.948 1)" font-family="Liberation Serif" font-size="16.5" font-weight="normal" font-style="normal" stroke="#000" stroke-width="0.45" stroke-linejoin="round">5%</text>
<text transform="translate(616.99 718.5) scale(1.246 1)" font-family="Liberation Serif" font-size="16.5" font-weight="normal" font-style="normal" stroke="#000" stroke-width="0.45" stroke-linejoin="round">linear</text>
<text transform="translate(617.68 735.2) scale(0.911 1)" font-family="Liberation Serif" font-size="16.5" font-weight="normal" font-style="normal" stroke="#000" stroke-width="0.45" stroke-linejoin="round">1%</text>
<text transform="translate(695.18 718.5) scale(0.844 1)" font-family="Liberation Serif" font-size="16.5" font-weight="normal" font-style="normal" stroke="#000" stroke-width="0.45" stroke-linejoin="round">1</text>
<path d="M705.3 713.4H714" stroke="#000" stroke-width="1.5"/>
<text transform="translate(716.02 718.5) scale(1.139 1)" font-family="Liberation Serif" font-size="16.5" font-weight="normal" font-style="normal" stroke="#000" stroke-width="0.45" stroke-linejoin="round">loop</text>
<text transform="translate(695.08 735.2) scale(0.911 1)" font-family="Liberation Serif" font-size="16.5" font-weight="normal" font-style="normal" stroke="#000" stroke-width="0.45" stroke-linejoin="round">1%</text>
<text transform="translate(767.28 718.5) scale(0.844 1)" font-family="Liberation Serif" font-size="16.5" font-weight="normal" font-style="normal" stroke="#000" stroke-width="0.45" stroke-linejoin="round">1</text>
<path d="M777.4 713.4H786.1" stroke="#000" stroke-width="1.5"/>
<text transform="translate(788.12 718.5) scale(1.139 1)" font-family="Liberation Serif" font-size="16.5" font-weight="normal" font-style="normal" stroke="#000" stroke-width="0.45" stroke-linejoin="round">loop</text>
<text transform="translate(766.09 735.2) scale(0.948 1)" font-family="Liberation Serif" font-size="16.5" font-weight="normal" font-style="normal" stroke="#000" stroke-width="0.45" stroke-linejoin="round">5%</text>
</svg></body></html>
